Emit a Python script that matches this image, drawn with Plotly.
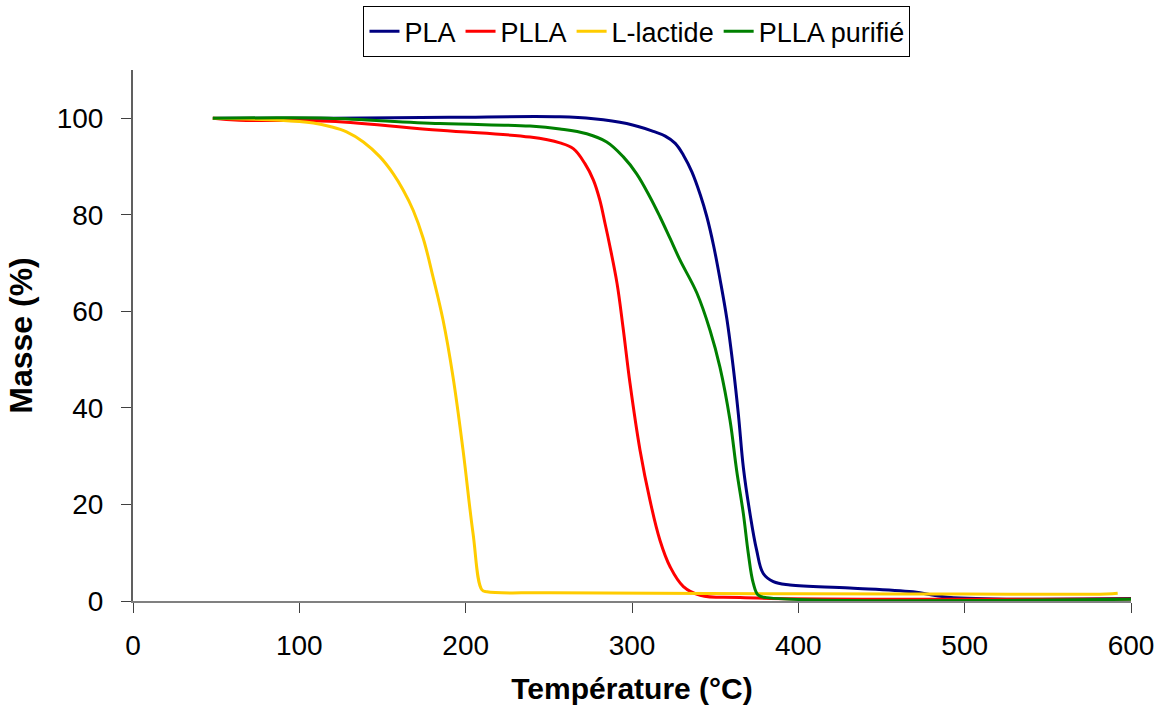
import plotly.graph_objects as go

# PLA
pla_t = [48, 120, 190, 256.7, 276.8, 296.8, 312.8, 320, 326, 331, 336, 341, 345, 349, 353, 357, 361, 364, 367, 370.9, 374.9, 378.9, 385, 395, 431, 469, 490, 600]
pla_m = [100, 100, 100.2, 100.3, 99.9, 98.9, 97.3, 96.3, 94.8, 92.3, 88.9, 84.2, 79.6, 73.7, 66.5, 58.5, 48, 38.5, 27.5, 18.2, 10.6, 5.7, 4.0, 3.3, 2.7, 1.9, 0.8, 0.5]

# PLLA
plla_t = [48, 64, 118, 184.6, 238.7, 256.7, 264.7, 271.7, 276.8, 280.7, 283.8, 286.4, 291, 294.6, 298.8, 304.8, 310.8, 316.8, 322.9, 330.9, 341, 365, 600]
plla_m = [100, 99.6, 99.4, 97.5, 96.1, 94.9, 93.7, 90.6, 87.2, 83, 78.2, 74, 65.8, 56.7, 45.1, 31.3, 20.9, 12.6, 7.1, 3.0, 1.2, 0.7, 0.4]

# L-lactide
lac_t = [48, 88.4, 108.4, 118.4, 128.4, 138.5, 148.5, 156.5, 162.5, 168.5, 174.5, 180.4, 186.4, 192.4, 198.4, 204.4, 209.8, 212.8, 250.7, 400, 500, 585, 592]
lac_m = [100, 99.6, 99.0, 98.3, 97.2, 95.1, 92.0, 88.5, 85.1, 80.9, 75.1, 67.1, 58.2, 46.4, 31.3, 14.1, 2.3, 1.9, 1.7, 1.5, 1.45, 1.45, 1.6]

# PLLA purifié
plp_t = [48, 88, 118, 184.6, 238.7, 256.7, 272.8, 284.8, 294.8, 302.8, 310.8, 316.8, 322.9, 328.9, 339, 346.9, 352.9, 358.9, 362.9, 366.9, 369.9, 372.9, 375.9, 380.9, 600]
plp_m = [100, 100.1, 100, 98.9, 98.4, 97.8, 96.8, 95.1, 92, 88.5, 83.7, 79.6, 75.1, 70.6, 63.8, 56.1, 48.4, 37.5, 27.1, 18.2, 9.9, 3.7, 1.2, 0.7, 0.35]

series = [
    ("PLA", pla_t, pla_m, "#000080"),
    ("PLLA", plla_t, plla_m, "#FF0000"),
    ("L-lactide", lac_t, lac_m, "#FFCC00"),
    ("PLLA purifié", plp_t, plp_m, "#008000"),
]

fig = go.Figure()
for name, t, m, c in series:
    fig.add_trace(go.Scatter(x=t, y=m, name=name, mode="lines",
                             line=dict(color=c, width=3, shape="spline", smoothing=1.1)))

fig.update_layout(
    width=1160, height=708,
    margin=dict(l=133, r=29, t=70, b=107, autoexpand=False),
    paper_bgcolor="white", plot_bgcolor="white",
    font=dict(family="Arial, Liberation Sans, sans-serif", size=28, color="black"),
    showlegend=True,
    legend=dict(orientation="h", x=0.505, xanchor="center", y=1.12, yanchor="top",
                bordercolor="black", borderwidth=1, font=dict(size=27),
                itemwidth=30, tracegroupgap=0),
    xaxis=dict(range=[0, 600], tickvals=[0, 100, 200, 300, 400, 500, 600], automargin=False,
               showline=True, linecolor="#808080", linewidth=2, ticks="outside",
               tickcolor="#404040", ticklen=10, tickwidth=1, showgrid=False, zeroline=False,
               ticklabelstandoff=8, tickfont=dict(size=28),
               title=dict(text="<b>Température (°C)</b>", font=dict(size=30), standoff=18)),
    yaxis=dict(range=[0, 110], tickvals=[0, 20, 40, 60, 80, 100], automargin=False,
               showline=True, linecolor="#606060", linewidth=2, ticks="outside",
               tickcolor="#404040", ticklen=10, tickwidth=1, showgrid=False, zeroline=False,
               ticklabelstandoff=12, tickfont=dict(size=28),
               title=dict(text="<b>Masse (%)</b>", font=dict(size=32), standoff=14)),
)

fig.write_html("out.html")
